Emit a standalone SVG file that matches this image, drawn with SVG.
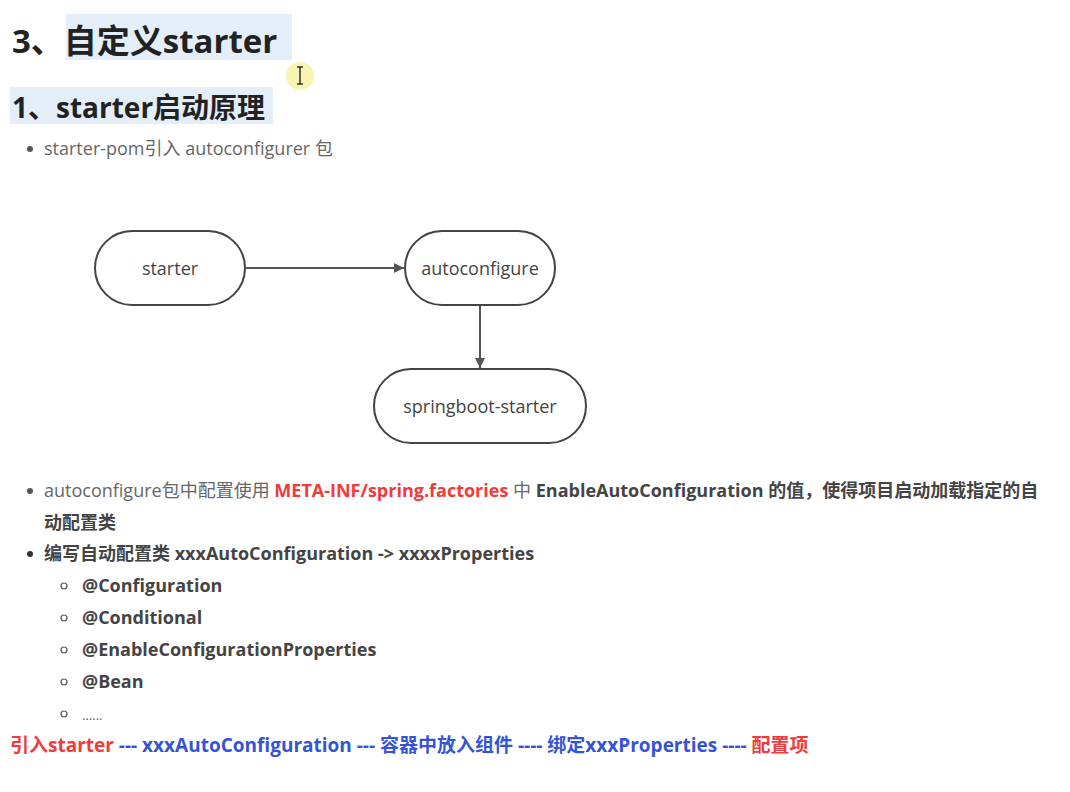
<svg xmlns="http://www.w3.org/2000/svg" width="1070" height="792" viewBox="0 0 1070 792">
<style>
text{font-family:"Open Sans","Noto Sans CJK SC",sans-serif;}
.h{font-weight:bold;fill:#222;}
.p{font-size:18px;fill:#666;}
.b{font-size:18px;fill:#444;font-weight:bold;}
.red{fill:#f23a3a;font-weight:bold;}
.blue{fill:#3454d8;font-weight:bold;}
.node rect{fill:#fff;stroke:#444;stroke-width:2;}
.node text{font-size:18px;fill:#444;text-anchor:middle;}
.edge{stroke:#555;stroke-width:2;fill:none;marker-end:url(#ah);}
</style>
<defs>
<marker id="ah" viewBox="0 0 10 10" refX="10" refY="5" markerWidth="5" markerHeight="5" orient="auto" markerUnits="strokeWidth">
<path d="M0,0 L10,5 L0,10 z" fill="#555"/>
</marker>
</defs>
<rect width="1070" height="792" fill="#fff"/>
<rect x="66" y="14" width="226" height="46" fill="#e3eef9"/>
<rect x="10" y="87" width="263" height="37" fill="#e3eef9"/>
<text class="h" x="12" y="53" font-size="33">3、自定义starter</text>
<text class="h" x="12" y="118" font-size="28">1、starter启动原理</text>
<circle cx="300" cy="76" r="14" fill="#f6f2a0" opacity="0.8"/>
<path d="M297,67 h6 M300,67 v17 M297,84 h6" stroke="#333" stroke-width="1.5" fill="none"/>
<circle cx="30" cy="149" r="3" fill="#555"/>
<text class="p" x="44" y="155">starter-pom引入 autoconfigurer 包</text>
<g id="connectors">
<path class="edge" d="M246,268 H404"/>
<path class="edge" d="M480,306 V368"/>
</g>
<g id="node-starter" class="node">
<rect x="95" y="231" width="150" height="74" rx="37"/>
<text x="170" y="275">starter</text>
</g>
<g id="node-autoconfigure" class="node">
<rect x="405" y="231" width="150" height="74" rx="37"/>
<text x="480" y="275">autoconfigure</text>
</g>
<g id="node-springboot-starter" class="node">
<rect x="374" y="369" width="212" height="74" rx="37"/>
<text x="480" y="413">springboot-starter</text>
</g>
<circle cx="30" cy="491" r="3" fill="#555"/>
<text class="p" x="44" y="497">autoconfigure包中配置使用 <tspan class="red">META-INF/spring.factories</tspan> 中 <tspan class="b">EnableAutoConfiguration 的值，使得项目启动加载指定的自</tspan></text>
<text class="b" x="44" y="529">动配置类</text>
<circle cx="30" cy="554" r="3" fill="#333"/>
<text class="b" x="44" y="560">编写自动配置类 xxxAutoConfiguration -&gt; xxxxProperties</text>
<g fill="none" stroke="#555" stroke-width="1.2">
<circle cx="64" cy="586" r="3"/>
<circle cx="64" cy="618" r="3"/>
<circle cx="64" cy="650" r="3"/>
<circle cx="64" cy="682" r="3"/>
<circle cx="64" cy="714" r="3"/>
</g>
<text class="b" x="82" y="592">@Configuration</text>
<text class="b" x="82" y="624">@Conditional</text>
<text class="b" x="82" y="656">@EnableConfigurationProperties</text>
<text class="b" x="82" y="688">@Bean</text>
<text class="p" x="82" y="720" style="font-size:13px">......</text>
<text x="10" y="752" font-size="19"><tspan class="red">引入starter</tspan><tspan class="blue"> --- xxxAutoConfiguration --- 容器中放入组件 ---- 绑定xxxProperties ---- </tspan><tspan class="red">配置项</tspan></text>
</svg>
